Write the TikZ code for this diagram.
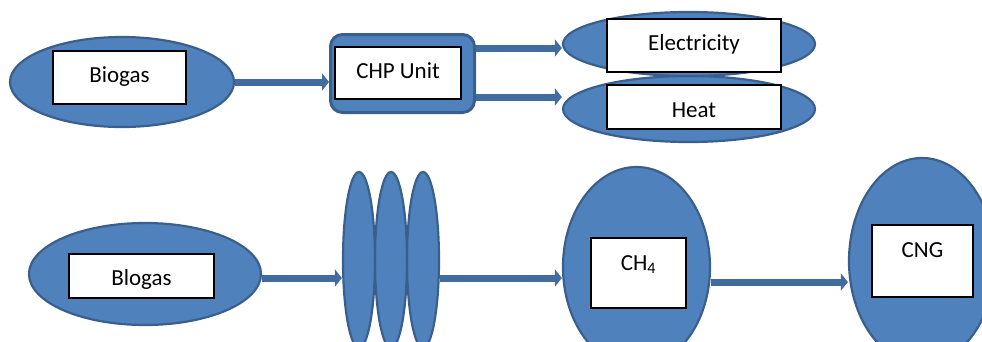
\documentclass[tikz,border=0pt]{standalone}
\usepackage{fontspec}
\setmainfont{Carlito}
\usetikzlibrary{shapes.geometric,arrows.meta,calc}
\definecolor{fillblue}{HTML}{4F81BD}
\definecolor{edgeblue}{HTML}{3A5F8D}
\definecolor{arrblue}{HTML}{426B9F}
\tikzset{
  ell/.style={ellipse, fill=fillblue, draw=edgeblue, line width=2.2pt, inner sep=0pt},
  wbox/.style={rectangle, fill=white, draw=black, line width=1.2pt, inner xsep=0pt, inner ysep=0pt,
     font=\fontsize{23}{27}\selectfont},
  arr/.style={draw=arrblue, line width=7pt, -{Triangle[length=7pt,width=17pt]}},
}
\begin{document}
\begin{tikzpicture}[x=1pt,y=-1pt]
\useasboundingbox (0,0) rectangle (982,341);
\clip (0,0) rectangle (982,341);
% top row
\node[ell, minimum width=224pt, minimum height=90pt] (bio1) at (122,82) {};
\node[rectangle, rounded corners=12pt, fill=fillblue, draw=edgeblue, line width=3pt,
      minimum width=144pt, minimum height=78pt] (chp) at (402.5,73.5) {};
\node[ell, minimum width=252pt, minimum height=66pt] (heat) at (689,109) {};
\node[ell, minimum width=252pt, minimum height=64pt] (elec) at (689,44) {};
\node[wbox, minimum width=133pt, text height=31pt, text depth=22pt] (bio1t) at (119.5,77.5) {Biogas};
\node[wbox, minimum width=126pt, text height=31pt, text depth=21pt] (chpt) at (398,73) {CHP Unit};
\node[wbox, minimum width=174pt, text height=31pt, text depth=22pt] (elect) at (694,45.5) {Electricity};
\node[wbox, minimum width=174pt, text height=32pt, text depth=12pt] (heatt) at (694,107) {Heat};
\draw[arr] (bio1.east) -- (bio1.east -| chp.west);
\coordinate (c1) at ($(chp.east)+(0,-25.5)$);
\coordinate (c2) at ($(chp.east)+(0,23.5)$);
\draw[arr] (c1) -- (c1 -| elec.west);
\draw[arr] (c2) -- (c2 -| heat.west);
% bottom row
\node[ell, minimum width=232pt, minimum height=102pt] (bio2) at (145,274) {};
\node[ell, minimum width=32pt, minimum height=176pt] (f1) at (359,260) {};
\node[ell, minimum width=32pt, minimum height=176pt] (f2) at (391,260) {};
\node[ell, minimum width=32pt, minimum height=176pt] (f3) at (423,260) {};
\node[ell, minimum width=147pt, minimum height=200pt] (ch4) at (636.5,267) {};
\node[ell, minimum width=146pt, minimum height=206pt] (cng) at (922,261) {};
\node[wbox, minimum width=145pt, text height=31pt, text depth=13pt] (bio2t) at (141.5,276) {Blogas};
\node[wbox, minimum width=95pt, text height=32pt, text depth=38pt] (ch4t) at (638.5,273) {CH\textsubscript{4}};
\node[wbox, minimum width=101pt, text height=32pt, text depth=40pt] (cngt) at (922.5,261) {CNG};
\coordinate (d1) at ($(bio2.east)+(0,4)$);
\draw[arr] (d1) -- (d1 -| f1.west);
\coordinate (d2) at ($(f3.east)+(0,18)$);
\draw[arr] (d2) -- (d2 -| ch4.west);
\coordinate (d3) at ($(ch4.east)+(0,15)$);
\draw[arr] (d3) -- (d3 -| cng.west);
\end{tikzpicture}
\end{document}
